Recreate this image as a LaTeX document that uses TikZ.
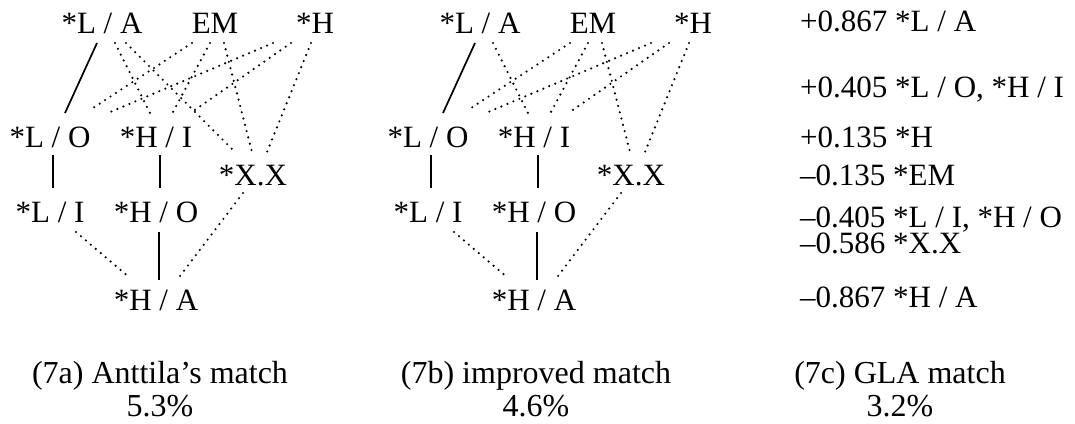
\documentclass[tikz,border=0pt]{standalone}
\usepackage{fontspec}
\setmainfont{Liberation Serif}
\begin{document}
\begin{tikzpicture}[x=1pt,y=-1pt,
  lbl/.style={anchor=base,inner sep=0pt,font=\fontsize{31}{36}\selectfont},
  captext/.style={anchor=base,inner sep=0pt,font=\fontsize{32}{36}\selectfont},
  lst/.style={anchor=base west,inner sep=0pt,font=\fontsize{31}{36}\selectfont},
  dotline/.style={line width=2.4pt,dash pattern=on 0pt off 6.5pt,line cap=round},
  solidline/.style={line width=1.7pt}]
\useasboundingbox (0,0) rectangle (1075,423);

% ---------- (7a) ----------
\begin{scope}[name prefix=a-]
\node[lbl] (LA) at (102,33) {*L / A};
\node[lbl] (EM) at (215,33) {EM};
\node[lbl] (H)  at (315,33) {*H};
\node[lbl] (LO) at (50,147) {*L / O};
\node[lbl] (HI) at (156,147) {*H / I};
\node[lbl] (XX) at (253,185) {*X.X};
\node[lbl] (LI) at (50,222) {*L / I};
\node[lbl] (HO) at (156,222) {*H / O};
\node[lbl] (HA) at (156,310) {*H / A};
\draw[solidline] ([shift={(-5,10)}]LA.base) -- ([shift={(15,-34)}]LO.base);
\draw[dotline] ([shift={(13,10)}]LA.base) -- ([shift={(-6,-34)}]HI.base);
\draw[dotline] ([shift={(24,10)}]LA.base) -- ([shift={(-18,-33)}]XX.base);
\draw[dotline] ([shift={(-23,10)}]EM.base) -- ([shift={(40,-37)}]LO.base);
\draw[dotline] ([shift={(-5,10)}]EM.base) -- ([shift={(17,-35)}]HI.base);
\draw[dotline] ([shift={(9,10)}]EM.base) -- ([shift={(-1,-33)}]XX.base);
\draw[dotline] ([shift={(-42,10)}]H.base) -- ([shift={(58,-34)}]LO.base);
\draw[dotline] ([shift={(-24,10)}]H.base) -- ([shift={(36,-35)}]HI.base);
\draw[dotline] ([shift={(-4,10)}]H.base) -- ([shift={(14,-33)}]XX.base);
\draw[solidline] ([shift={(3,8)}]LO.base) -- ([shift={(3,-34)}]LI.base);
\draw[solidline] ([shift={(4,8)}]HI.base) -- ([shift={(4,-34)}]HO.base);
\draw[dotline] ([shift={(26,10)}]LI.base) -- ([shift={(-26,-32)}]HA.base);
\draw[solidline] ([shift={(3,10)}]HO.base) -- ([shift={(3,-30)}]HA.base);
\draw[dotline] ([shift={(-10,8)}]XX.base) -- ([shift={(21,-30)}]HA.base);
\end{scope}

% ---------- (7b) ----------
\begin{scope}[name prefix=b-]
\node[lbl] (LA) at (480,33) {*L / A};
\node[lbl] (EM) at (593,33) {EM};
\node[lbl] (H)  at (693,33) {*H};
\node[lbl] (LO) at (428,147) {*L / O};
\node[lbl] (HI) at (534,147) {*H / I};
\node[lbl] (XX) at (631,185) {*X.X};
\node[lbl] (LI) at (428,222) {*L / I};
\node[lbl] (HO) at (534,222) {*H / O};
\node[lbl] (HA) at (534,310) {*H / A};
\draw[solidline] ([shift={(-5,10)}]LA.base) -- ([shift={(15,-34)}]LO.base);
\draw[dotline] ([shift={(13,10)}]LA.base) -- ([shift={(-6,-34)}]HI.base);
\draw[dotline] ([shift={(-23,10)}]EM.base) -- ([shift={(40,-37)}]LO.base);
\draw[dotline] ([shift={(-5,10)}]EM.base) -- ([shift={(17,-35)}]HI.base);
\draw[dotline] ([shift={(9,10)}]EM.base) -- ([shift={(-1,-33)}]XX.base);
\draw[dotline] ([shift={(-42,10)}]H.base) -- ([shift={(58,-34)}]LO.base);
\draw[dotline] ([shift={(-24,10)}]H.base) -- ([shift={(36,-35)}]HI.base);
\draw[dotline] ([shift={(-4,10)}]H.base) -- ([shift={(14,-33)}]XX.base);
\draw[solidline] ([shift={(3,8)}]LO.base) -- ([shift={(3,-34)}]LI.base);
\draw[solidline] ([shift={(4,8)}]HI.base) -- ([shift={(4,-34)}]HO.base);
\draw[dotline] ([shift={(26,10)}]LI.base) -- ([shift={(-26,-32)}]HA.base);
\draw[solidline] ([shift={(3,10)}]HO.base) -- ([shift={(3,-30)}]HA.base);
\draw[dotline] ([shift={(-10,8)}]XX.base) -- ([shift={(21,-30)}]HA.base);
\end{scope}

% ---------- (7c) ----------
\node[lst] (c1) at (800,31)  {+0.867 *L / A};
\node[lst] (c2) at (800,97)  {+0.405 *L / O, *H / I};
\node[lst] (c3) at (800,147) {+0.135 *H};
\node[lst] (c4) at (800,185) {–0.135 *EM};
\node[lst] (c5) at (800,227) {–0.405 *L / I, *H / O};
\node[lst] (c6) at (800,253) {–0.586 *X.X};
\node[lst] (c7) at (800,307) {–0.867 *H / A};

% ---------- captions ----------
\node[captext] (capa) at (160,383) {(7a) Anttila’s match};
\node[captext] (pcta) at (160,416) {5.3\%};
\node[captext] (capb) at (536,383) {(7b) improved match};
\node[captext] (pctb) at (536,416) {4.6\%};
\node[captext] (capc) at (900,383) {(7c) GLA match};
\node[captext] (pctc) at (900,416) {3.2\%};
\end{tikzpicture}
\end{document}
